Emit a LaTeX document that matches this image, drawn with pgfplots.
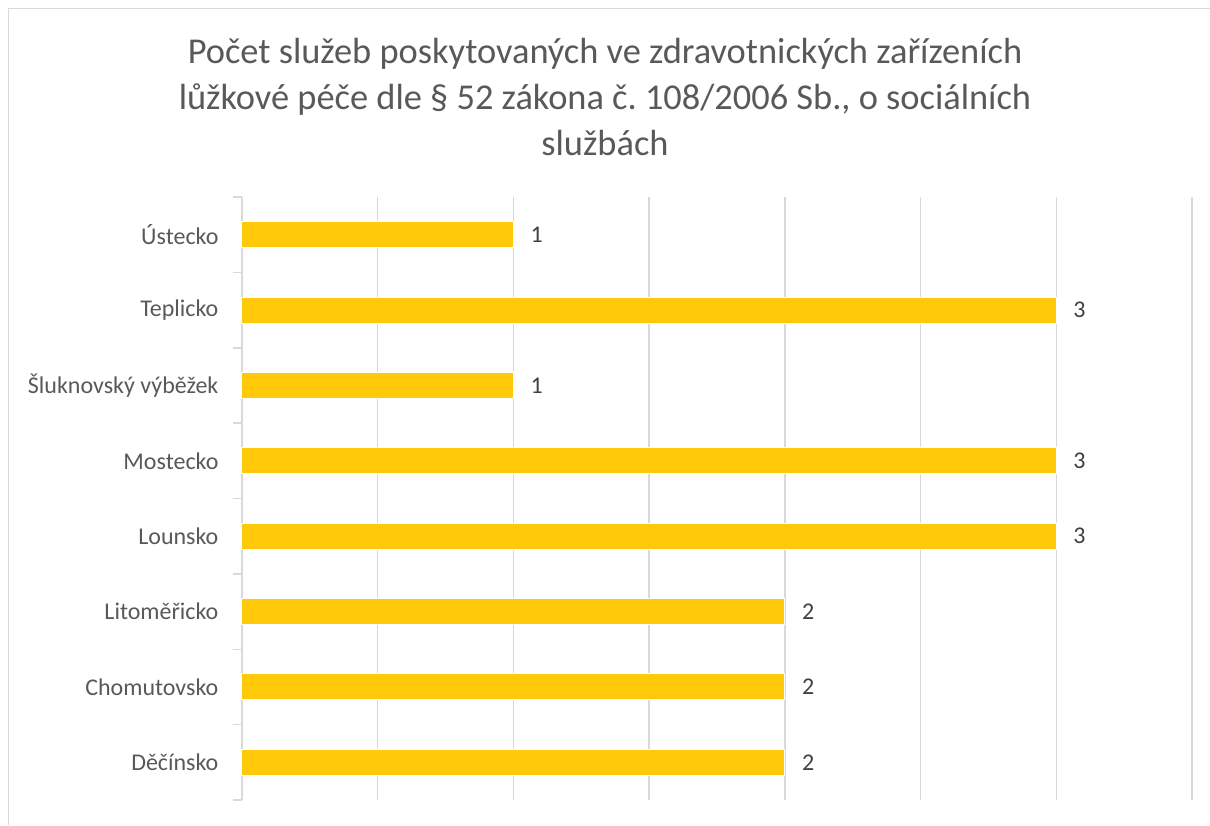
\documentclass[border=0pt]{standalone}
\usepackage{pgfplots}
\pgfplotsset{compat=1.18}
\usepackage{fontspec}
\setmainfont{Carlito}
\frenchspacing
\definecolor{bargold}{HTML}{FFC90A}
\definecolor{gridgray}{HTML}{D9D9D9}
\definecolor{txtgray}{HTML}{595959}
\definecolor{lblgray}{HTML}{404040}
\begin{document}
\begin{tikzpicture}
\path[use as bounding box] (-121pt,-12.5pt) rectangle (484pt,400pt);
\draw[gridgray, line width=0.75pt] (-116.75pt,-12.5pt) -- (-116.75pt,395.75pt) -- (484pt,395.75pt);
\begin{axis}[
  at={(0,0)}, anchor=south west,
  scale only axis,
  width=475pt, height=301.5pt,
  xbar, bar width=13pt,
  xmin=0, xmax=3.5,
  ymin=-0.5, ymax=7.5,
  axis lines*=left,
  x axis line style={draw=none},
  y axis line style={draw=gridgray, line width=0.75pt},
  xtick={0,0.5,...,3.5}, xticklabels={},
  major x tick style={draw=none},
  xmajorgrids,
  grid style={draw=gridgray, line width=0.75pt},
  ytick={0,...,7},
  yticklabels={Děčínsko,Chomutovsko,Litoměřicko,Lounsko,Mostecko,Šluknovský výběžek,Teplicko,Ústecko},
  major y tick style={draw=none},
  minor ytick={-0.5,0.5,...,7.5},
  minor tick length=4.5pt,
  minor y tick style={draw=gridgray, line width=0.75pt},
  tick align=outside,
  yticklabel style={font=\fontsize{12}{14}\selectfont, text=txtgray, xshift=-4pt},
  /pgf/number format/assume math mode=true,
  nodes near coords,
  nodes near coords style={font=\fontsize{12}{14}\selectfont, text=lblgray, anchor=west, xshift=5pt},
  point meta=x,
  clip=false,
]
\addplot[fill=bargold, draw=white, line width=0.5pt] coordinates {
(2,0) (2,1) (2,2) (3,3) (3,4) (1,5) (3,6) (1,7)};
\end{axis}
\node[align=center, text=txtgray, font=\fontsize{18.2}{23}\selectfont] at (181.5pt,351.5pt)
{Počet služeb poskytovaných ve zdravotnických zařízeních\\lůžkové péče dle § 52 zákona č. 108/2006 Sb., o sociálních\\službách};
\end{tikzpicture}
\end{document}
